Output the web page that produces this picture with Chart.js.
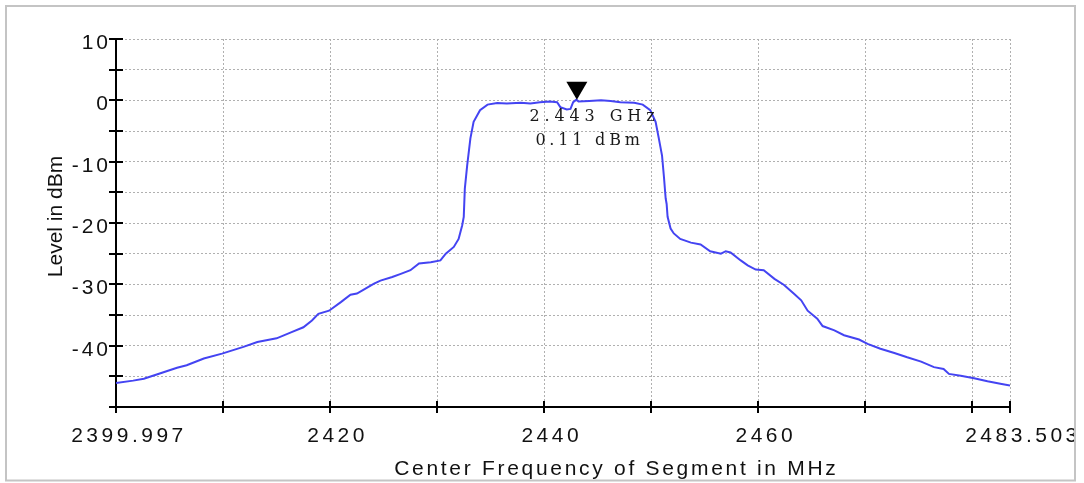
<!DOCTYPE html>
<html>
<head>
<meta charset="utf-8">
<title>Spectrum</title>
<script src="https://cdn.jsdelivr.net/npm/chart.js@4.4.1/dist/chart.umd.min.js"></script>
<style>
  html, body { margin: 0; padding: 0; background: #fff; }
  #wrap { position: relative; width: 1084px; height: 483px; }
</style>
</head>
<body>
<div id="wrap"><canvas id="spectrum"></canvas></div>
<script>
// Measured trace: frequency (MHz) and level (dBm)
const freqMHz = [
  2399.997, 2401.6, 2402.6, 2403.8, 2405.7, 2406.6, 2408.2, 2409.9, 2411.9, 2413.2,
  2415.0, 2416.4, 2417.5, 2418.3, 2418.9, 2419.9, 2421.0, 2421.9, 2422.5, 2423.1,
  2424.1, 2424.7, 2425.8, 2426.6, 2427.5, 2428.3, 2429.4, 2430.3, 2430.8, 2431.55,
  2432.0, 2432.33, 2432.48, 2432.58, 2432.8, 2433.1, 2433.4, 2434.0, 2434.7, 2435.6,
  2436.5, 2437.8, 2438.7, 2439.6, 2440.5, 2441.2, 2441.5, 2442.1, 2442.45, 2442.7,
  2443.0, 2443.2, 2444.2, 2445.3, 2446.2, 2447.1, 2448.4, 2449.2, 2449.9, 2450.4,
  2450.7, 2451.0, 2451.18, 2451.34, 2451.43, 2451.52, 2451.8, 2452.1, 2452.7, 2453.7,
  2454.6, 2455.5, 2456.5, 2456.95, 2457.4, 2458.35, 2459.0, 2459.75, 2460.5, 2461.5,
  2462.4, 2463.3, 2464.0, 2464.6, 2465.5, 2466.0, 2467.1, 2468.0, 2469.4, 2470.2,
  2471.4, 2472.7, 2473.9, 2475.2, 2476.4, 2477.3, 2477.8, 2478.9, 2480.15, 2481.4,
  2482.6, 2483.503
];
const levelDbm = [
  -46.1, -45.7, -45.4, -44.7, -43.6, -43.2, -42.1, -41.3, -40.2, -39.4,
  -38.8, -37.8, -37.0, -35.9, -34.8, -34.3, -32.9, -31.7, -31.5, -30.9,
  -29.9, -29.4, -28.8, -28.3, -27.7, -26.6, -26.4, -26.1, -25.0, -23.9,
  -22.6, -20.4, -19.0, -14.4, -10.6, -6.2, -3.5, -1.6, -0.7, -0.45,
  -0.5, -0.4, -0.5, -0.3, -0.2, -0.3, -1.1, -1.5, -1.4, -0.3,
  0.11, -0.2, -0.1, 0.0, -0.1, -0.3, -0.4, -0.7, -1.6, -3.5,
  -6.2, -9.0, -12.5, -16.0, -16.9, -19.0, -20.9, -21.7, -22.6, -23.2,
  -23.5, -24.6, -25.0, -24.6, -24.8, -26.1, -26.9, -27.6, -27.7, -29.1,
  -30.1, -31.5, -32.6, -34.3, -35.6, -36.8, -37.5, -38.3, -39.0, -39.7,
  -40.5, -41.2, -41.9, -42.6, -43.5, -43.8, -44.6, -44.9, -45.3, -45.8,
  -46.2, -46.5
];

// Axis ticks and labels
const xTickValues = [2399.997, 2410, 2420, 2430, 2440, 2450, 2460, 2470, 2480, 2483.503];
const xLabelValues = [2399.997, 2420, 2440, 2460, 2483.503];
const yLabelValues = [10, 0, -10, -20, -30, -40];

// Marker
const markerFreq = 2443;
const markerLevel = 0.11;
const markerLines = ['2.443 GHz', '0.11 dBm'];

const xTitle = 'Center Frequency of Segment in MHz';
const yTitle = 'Level in dBm';

// width of spaced text without the gap after the last glyph
function inkWidth(ctx, text) {
  return ctx.measureText(text).width - parseFloat(ctx.letterSpacing || '0');
}

const analyzerDecor = {
  id: 'analyzerDecor',
  afterDraw(chart) {
    const { ctx, chartArea: area, scales: { x, y } } = chart;
    ctx.save();

    // panel frame
    ctx.strokeStyle = '#c4c4c4';
    ctx.lineWidth = 2;
    ctx.strokeRect(6, 6, 1069, 474.5);
    ctx.beginPath();
    ctx.rect(7, 7, 1067, 472.5);
    ctx.clip();

    // tick marks cross the axis lines
    ctx.strokeStyle = '#000';
    ctx.lineWidth = 2;
    ctx.beginPath();
    x.ticks.forEach(t => {
      const px = Math.round(x.getPixelForValue(t.value));
      ctx.moveTo(px, area.bottom - 6);
      ctx.lineTo(px, area.bottom + 6);
    });
    y.ticks.forEach(t => {
      const py = Math.round(y.getPixelForValue(t.value));
      ctx.moveTo(area.left - 7, py);
      ctx.lineTo(area.left + 7, py);
    });
    ctx.stroke();

    ctx.fillStyle = '#111';
    ctx.textAlign = 'left';
    ctx.textBaseline = 'alphabetic';
    ctx.font = '21px "Liberation Sans", Arial, sans-serif';

    // x tick labels
    ctx.letterSpacing = '3.5px';
    xLabelValues.forEach(v => {
      const text = String(v);
      const w = inkWidth(ctx, text);
      ctx.fillText(text, x.getPixelForValue(v) - 0.4 * w, area.bottom + 35);
    });

    // y tick labels
    ctx.letterSpacing = '3px';
    yLabelValues.forEach(v => {
      const text = String(v);
      const w = inkWidth(ctx, text);
      ctx.fillText(text, area.left - 8 - w, y.getPixelForValue(v) + 10);
    });

    // axis titles
    ctx.letterSpacing = '2.7px';
    const tw = inkWidth(ctx, xTitle);
    ctx.fillText(xTitle, 615 - tw / 2, 475);

    ctx.save();
    ctx.letterSpacing = '0px';
    ctx.translate(62, 216.5);
    ctx.rotate(-Math.PI / 2);
    ctx.textAlign = 'center';
    ctx.fillText(yTitle, 0, 0);
    ctx.restore();

    // marker triangle and readout
    const mx = x.getPixelForValue(markerFreq);
    const my = y.getPixelForValue(markerLevel);
    ctx.fillStyle = '#000';
    ctx.beginPath();
    ctx.moveTo(mx - 10, my - 18);
    ctx.lineTo(mx + 11, my - 18);
    ctx.lineTo(mx + 0.5, my);
    ctx.closePath();
    ctx.fill();

    ctx.fillStyle = '#1a1a1a';
    ctx.font = '16px "DejaVu Serif", "Liberation Serif", serif';
    ctx.letterSpacing = '4.9px';
    ctx.fillText(markerLines[0], mx - 47, my + 21);
    ctx.letterSpacing = '3.8px';
    ctx.fillText(markerLines[1], mx - 41, my + 45);

    ctx.restore();
  }
};

const gridStyle = {
  color: '#b0b0b0',
  lineWidth: 1,
  drawTicks: false
};

new Chart(document.getElementById('spectrum'), {
  type: 'line',
  data: {
    datasets: [{
      label: 'Level',
      data: freqMHz.map((f, i) => ({ x: f, y: levelDbm[i] })),
      borderColor: '#4444f2',
      borderWidth: 2,
      pointRadius: 0,
      tension: 0,
      fill: false
    }]
  },
  options: {
    responsive: true,
    maintainAspectRatio: false,
    animation: false,
    layout: { padding: { left: 116, top: 39, right: 74, bottom: 76 } },
    plugins: {
      legend: { display: false },
      tooltip: { enabled: false }
    },
    scales: {
      x: {
        type: 'linear',
        min: 2399.997,
        max: 2483.503,
        afterBuildTicks: scale => {
          scale.ticks = xTickValues.map(value => ({ value }));
        },
        ticks: { display: false },
        grid: gridStyle,
        border: { display: true, color: '#000', width: 2, dash: [2, 2] }
      },
      y: {
        min: -50,
        max: 10,
        ticks: { display: false, stepSize: 5 },
        grid: gridStyle,
        border: { display: true, color: '#000', width: 2, dash: [2, 2] }
      }
    }
  },
  plugins: [analyzerDecor]
});
</script>
</body>
</html>
